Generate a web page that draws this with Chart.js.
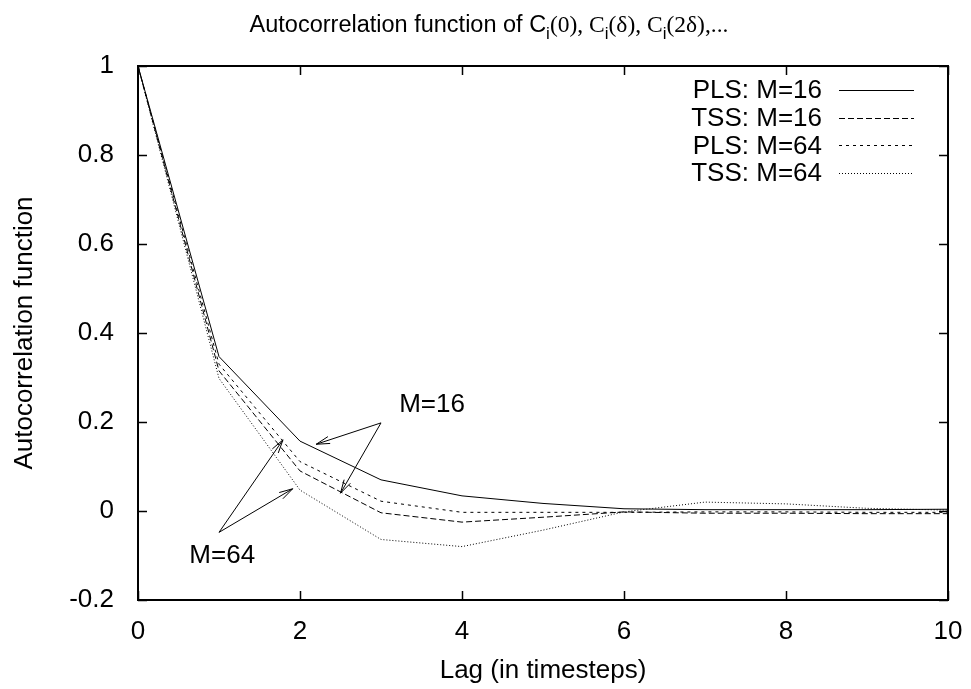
<!DOCTYPE html>
<html>
<head>
<meta charset="utf-8">
<script src="https://cdn.jsdelivr.net/npm/chart.js@4.4.0/dist/chart.umd.min.js"></script>
<style>
  html, body { margin: 0; padding: 0; background: #fff; }
</style>
</head>
<body>
<canvas id="chart" width="971" height="689"></canvas>
<script>
// data
const lags = [0, 1, 2, 3, 4, 5, 6, 7, 8, 9, 10];
const plsM16 = [1, 0.347, 0.157, 0.070, 0.034, 0.017, 0.005, 0.003, 0.003, 0.003, 0.004];
const tssM16 = [1, 0.315, 0.090, -0.004, -0.025, -0.014, -0.002, -0.005, -0.005, -0.006, -0.006];
const plsM64 = [1, 0.330, 0.111, 0.022, -0.003, -0.003, -0.003, -0.002, -0.002, -0.003, -0.003];
const tssM64 = [1, 0.298, 0.047, -0.064, -0.080, -0.043, -0.002, 0.020, 0.016, 0.006, 0.002];
const seriesNames = ["PLS: M=16", "TSS: M=16", "PLS: M=64", "TSS: M=64"];
const xTickValues = [0, 2, 4, 6, 8, 10];
const yTickValues = [-0.2, 0, 0.2, 0.4, 0.6, 0.8, 1];

// annotations (data units): label position, arrow start, arrow ends
const labelM16 = {text: "M=16", x: 3.63, y: 0.240, from: [3.0, 0.198], to: [[2.2, 0.150], [2.5, 0.040]]};
const labelM64 = {text: "M=64", x: 1.04, y: -0.099, from: [1.0, -0.048], to: [[1.79, 0.160], [1.91, 0.050]]};

const FONT = "'Liberation Sans', Arial, sans-serif";
const FS = 26;
const dashes = [[], [6, 3], [3, 4], [1, 2]];

function toPts(vals){
  return lags.map((l, i) => ({x: l, y: vals[i]}));
}

const overlay = {
  id: 'overlay',
  afterDraw(chart){
    const {ctx, chartArea: a, scales: {x, y}} = chart;
    ctx.save();
    ctx.strokeStyle = '#000';
    ctx.fillStyle = '#000';

    // inward ticks, mirrored
    ctx.lineWidth = 1.5;
    const tl = 9;
    ctx.beginPath();
    xTickValues.forEach(v => {
      const px = Math.round(x.getPixelForValue(v)) + 0.5;
      ctx.moveTo(px, a.bottom); ctx.lineTo(px, a.bottom - tl);
      ctx.moveTo(px, a.top); ctx.lineTo(px, a.top + tl);
    });
    yTickValues.forEach(v => {
      const py = Math.round(y.getPixelForValue(v)) + 0.5;
      ctx.moveTo(a.left, py); ctx.lineTo(a.left + tl, py);
      ctx.moveTo(a.right, py); ctx.lineTo(a.right - tl, py);
    });
    ctx.stroke();

    // frame
    ctx.lineWidth = 2;
    ctx.strokeRect(a.left, a.top, a.right - a.left, a.bottom - a.top);

    // legend (gnuplot style: text then line sample)
    ctx.font = FS + 'px ' + FONT;
    ctx.textAlign = 'right';
    ctx.textBaseline = 'middle';
    chart.data.datasets.forEach((ds, i) => {
      const ly = 90 + i * 27.7;
      ctx.fillText(ds.label, 822, ly + 1);
      ctx.save();
      ctx.lineWidth = 1;
      ctx.setLineDash(ds.borderDash);
      ctx.beginPath();
      ctx.moveTo(839, Math.round(ly) + 0.5);
      ctx.lineTo(914, Math.round(ly) + 0.5);
      ctx.stroke();
      ctx.restore();
    });

    // arrows with labels
    ctx.lineWidth = 1;
    ctx.textAlign = 'center';
    [labelM16, labelM64].forEach(lab => {
      ctx.fillText(lab.text, x.getPixelForValue(lab.x), y.getPixelForValue(lab.y) + 1);
      const x0 = x.getPixelForValue(lab.from[0]), y0 = y.getPixelForValue(lab.from[1]);
      lab.to.forEach(t => {
        const x1 = x.getPixelForValue(t[0]), y1 = y.getPixelForValue(t[1]);
        const ang = Math.atan2(y1 - y0, x1 - x0);
        const hl = 14, ha = 0.26;
        ctx.beginPath();
        ctx.moveTo(x0, y0); ctx.lineTo(x1, y1);
        ctx.moveTo(x1 - hl * Math.cos(ang - ha), y1 - hl * Math.sin(ang - ha));
        ctx.lineTo(x1, y1);
        ctx.lineTo(x1 - hl * Math.cos(ang + ha), y1 - hl * Math.sin(ang + ha));
        ctx.stroke();
      });
    });

    // title with subscripts
    const serif = "'Liberation Serif', serif";
    const parts = [
      ["Autocorrelation function of C", FONT, 23.5, 0],
      ["i", FONT, 17, 7],
      ["(0), C", serif, 23.5, 0],
      ["i", FONT, 17, 7],
      ["(\u03b4), C", serif, 23.5, 0],
      ["i", FONT, 17, 7],
      ["(2\u03b4),...", serif, 23.5, 0]
    ];
    ctx.textAlign = 'left';
    ctx.textBaseline = 'alphabetic';
    let total = 0;
    parts.forEach(p => { ctx.font = p[2] + 'px ' + p[1]; total += ctx.measureText(p[0]).width; });
    let tx = 489 - total / 2;
    parts.forEach(p => {
      ctx.font = p[2] + 'px ' + p[1];
      ctx.fillText(p[0], tx, 32 + p[3]);
      tx += ctx.measureText(p[0]).width;
    });
    ctx.restore();
  }
};

const ctx = document.getElementById('chart').getContext('2d');
const seriesValues = [plsM16, tssM16, plsM64, tssM64];
new Chart(ctx, {
  type: 'line',
  data: {
    datasets: seriesValues.map((vals, i) => ({
      label: seriesNames[i],
      data: toPts(vals),
      borderColor: '#000',
      borderWidth: 1,
      borderDash: dashes[i],
      pointRadius: 0,
      tension: 0,
      fill: false
    }))
  },
  options: {
    responsive: false,
    animation: false,
    layout: { padding: { top: 66, right: 23, left: 0, bottom: 0 } },
    plugins: {
      legend: { display: false },
      title: { display: false },
      tooltip: { enabled: false }
    },
    scales: {
      x: {
        type: 'linear',
        min: 0, max: 10,
        afterBuildTicks: s => { s.ticks = xTickValues.map(v => ({value: v})); },
        afterFit: s => { s.height = 89; s.paddingLeft = 0; s.paddingRight = 0; },
        grid: { display: false },
        border: { display: false },
        ticks: { color: '#000', font: { family: FONT, size: FS }, padding: 8, maxRotation: 0 },
        title: { display: true, text: 'Lag (in timesteps)', color: '#000', font: { family: FONT, size: FS }, padding: { bottom: 3 } }
      },
      y: {
        type: 'linear',
        min: -0.2, max: 1,
        afterBuildTicks: s => { s.ticks = yTickValues.map(v => ({value: v})); },
        afterFit: s => { s.width = 138; s.paddingTop = 0; s.paddingBottom = 0; },
        grid: { display: false },
        border: { display: false },
        ticks: { color: '#000', font: { family: FONT, size: FS }, padding: 16,
          callback: v => String(Number(v.toFixed(1))) },
        title: { display: true, text: 'Autocorrelation function', color: '#000', font: { family: FONT, size: FS }, padding: { top: 9 } }
      }
    }
  },
  plugins: [overlay]
});
</script>
</body>
</html>
